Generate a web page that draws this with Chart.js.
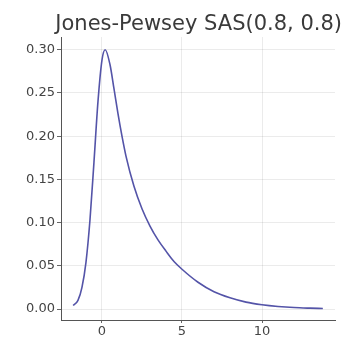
<!DOCTYPE html>
<html>
<head>
<meta charset="utf-8">
<script src="https://cdn.jsdelivr.net/npm/chart.js@4"></script>
<style>
html,body{margin:0;padding:0;background:#fff;}
#wrap{width:344px;height:339px;position:relative;}
</style>
</head>
<body>
<div id="wrap"><canvas id="c" width="344" height="339"></canvas></div>
<script>
const titleText = "Jones-Pewsey SAS(0.8, 0.8)";
const xValues = [-1.8, -1.5, -1.25, -1.0, -0.75, -0.5, -0.25, 0, 0.2, 0.5, 0.75, 1.0, 1.25, 1.5, 2.0, 2.5, 3.0, 3.5, 4.0, 4.5, 5.0, 6.0, 7.0, 8.0, 9.0, 10, 11, 12, 13, 13.8];
const densityValues = [0.004, 0.010, 0.025, 0.054, 0.103, 0.170, 0.240, 0.288, 0.300, 0.283, 0.255, 0.226, 0.200, 0.177, 0.142, 0.116, 0.096, 0.080, 0.067, 0.055, 0.046, 0.031, 0.020, 0.013, 0.008, 0.005, 0.003, 0.0017, 0.0010, 0.0006];
const xTicks = [0, 5, 10];
const yTicks = [0.00, 0.05, 0.10, 0.15, 0.20, 0.25, 0.30];

const points = xValues.map((x, i) => ({x: x, y: densityValues[i]}));

new Chart(document.getElementById('c'), {
  type: 'scatter',
  data: {
    datasets: [{
      data: points,
      showLine: true,
      borderColor: 'rgb(84,84,168)',
      borderWidth: 1.6,
      pointRadius: 0,
      cubicInterpolationMode: 'monotone',
      fill: false
    }]
  },
  options: {
    responsive: false,
    animation: false,
    layout: {padding: {left: 0, right: 2, top: 0, bottom: 0}},
    plugins: {
      legend: {display: false},
      tooltip: {enabled: false},
      title: {
        display: true,
        align: 'end',
        text: titleText,
        color: '#3a3a3a',
        font: {family: 'DejaVu Sans', size: 21, weight: 'normal', lineHeight: 1.2},
        padding: {top: 11.5, bottom: 0.3}
      }
    },
    scales: {
      x: {
        type: 'linear',
        min: -2.56,
        max: 14.56,
        afterBuildTicks: s => { s.ticks = xTicks.map(v => ({value: v})); },
        afterFit: s => { s.height = 19; },
        grid: {color: 'rgba(0,0,0,0.08)', drawTicks: true, tickLength: 3, tickColor: '#666'},
        border: {color: '#555', width: 1},
        ticks: {color: '#444', font: {family: 'DejaVu Sans', size: 13}, padding: 1, maxRotation: 0,
                callback: v => String(v)}
      },
      y: {
        type: 'linear',
        min: -0.0127,
        max: 0.3148,
        afterBuildTicks: s => { s.ticks = yTicks.map(v => ({value: v})); },
        afterFit: s => { s.width = 61; },
        grid: {color: 'rgba(0,0,0,0.08)', drawTicks: true, tickLength: 4, tickColor: '#666'},
        border: {color: '#555', width: 1},
        ticks: {color: '#444', font: {family: 'DejaVu Sans', size: 13}, padding: 2,
                callback: v => v.toFixed(2)}
      },
      yRight: {
        type: 'linear',
        position: 'right',
        min: -0.0127,
        max: 0.3148,
        afterFit: s => { s.width = 7; },
        grid: {display: false, drawOnChartArea: false},
        border: {display: false},
        ticks: {display: false}
      }
    }
  }
});
</script>
</body>
</html>
